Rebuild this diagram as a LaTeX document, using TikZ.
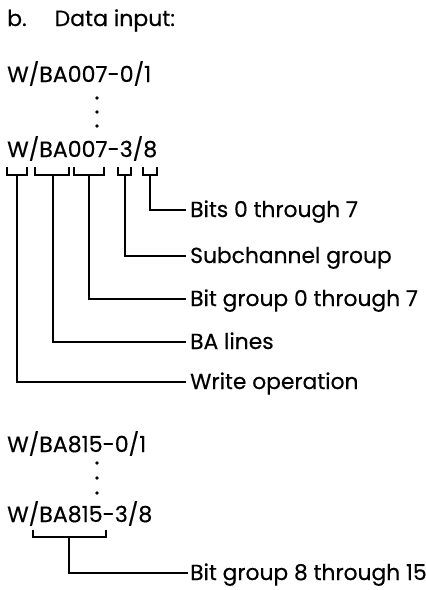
\documentclass[tikz,border=0pt]{standalone}
\usepackage{fontspec}
\setmainfont{Poppins}[FakeBold=0.4]
\begin{document}
\begin{tikzpicture}[x=1pt,y=-1pt,
  lbl/.style={anchor=base west,inner sep=0pt,font=\fontsize{21.8}{26}\selectfont},
  code/.style={anchor=base west,inner sep=0pt,font=\fontsize{22.1}{27}\selectfont},
  ttl/.style={anchor=base west,inner sep=0pt,font=\fontsize{22}{26}\selectfont},
  ln/.style={line width=1.8pt},
  dot/.style={circle,fill=black,inner sep=0pt,minimum size=3.8pt}]
\useasboundingbox (0,0) rectangle (426,590);
\node[ttl] (title) at (7,26) {b.\hspace{28pt}Data input:};
\node[code] (w1) at (7,82) {W/BA007-0/1};
\node[dot] (d1) at (97,98) {};
\node[dot] (d2) at (97,112) {};
\node[dot] (d3) at (97,126) {};
\node[code] (w2) at (7,157) {W/BA007-3/8};
% brackets
\coordinate (s1) at (17,175);
\coordinate (s2) at (53,175);
\coordinate (s3) at (89,175);
\coordinate (s4) at (125,175);
\coordinate (s5) at (150,175);
\draw[ln] (7,167) |- (27,175) -- (27,167);
\draw[ln] (35,167) |- (69,175) -- (69,167);
\draw[ln] (74,167) |- (104,175) -- (104,167);
\draw[ln] (118,167) |- (131,175) -- (131,167);
\draw[ln] (143,167) |- (157,175) -- (157,167);
\node[lbl] (t5) at (190,217) {Bits 0 through 7};
\node[lbl] (t4) at (190,263) {Subchannel group};
\node[lbl] (t3) at (190,306) {Bit group 0 through 7};
\node[lbl] (t2) at (190,349) {BA lines};
\node[lbl] (t1) at (190,389) {Write operation};
\draw[ln] (s5) |- ([xshift=-4pt]t5.west |- 0,210);
\draw[ln] (s4) |- ([xshift=-4pt]t4.west |- 0,256);
\draw[ln] (s3) |- ([xshift=-4pt]t3.west |- 0,299);
\draw[ln] (s2) |- ([xshift=-4pt]t2.west |- 0,342);
\draw[ln] (s1) |- ([xshift=-4pt]t1.west |- 0,382);
% second part
\node[code] (w3) at (7,452) {W/BA815-0/1};
\node[dot] (e1) at (97,463) {};
\node[dot] (e2) at (97,478) {};
\node[dot] (e3) at (97,493) {};
\node[code] (w4) at (7,522) {W/BA815-3/8};
\coordinate (s6) at (69,537);
\draw[ln] (33,530) |- (106,537) -- (106,530);
\node[lbl] (t6) at (190,580) {Bit group 8 through 15};
\draw[ln] (s6) |- ([xshift=-2pt]t6.west |- 0,573);
\end{tikzpicture}
\end{document}
